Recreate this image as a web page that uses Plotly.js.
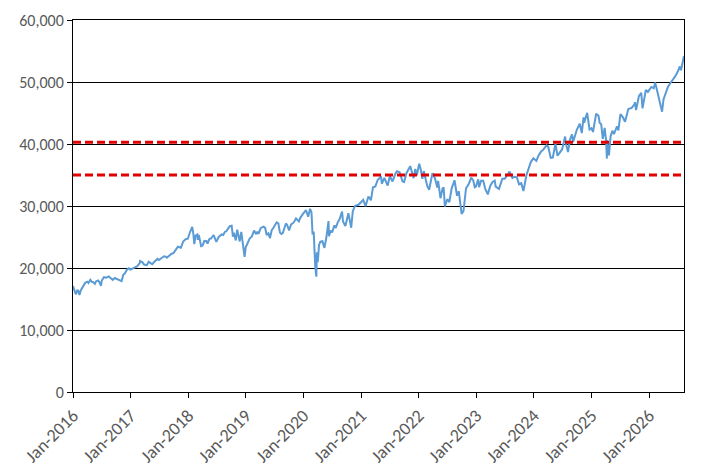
<!DOCTYPE html>
<html>
<head>
<meta charset="utf-8">
<script src="https://cdn.plot.ly/plotly-3.0.1.min.js"></script>
<style>
  html, body { margin: 0; padding: 0; background: #fff; }
  #chart { width: 719px; height: 472px; }
</style>
</head>
<body>
<div id="chart"></div>
<script>
// closing levels (roughly twice a month, extra points at sharp moves)
const dates = [
  "2016-01-01","2016-01-08","2016-01-15","2016-01-20","2016-01-29","2016-02-05","2016-02-11","2016-02-19",
  "2016-03-01","2016-03-11","2016-03-18","2016-04-01","2016-04-08","2016-04-20","2016-04-29","2016-05-06",
  "2016-05-19","2016-05-27","2016-06-08","2016-06-16","2016-06-27","2016-07-01","2016-07-15","2016-07-29",
  "2016-08-15","2016-08-26","2016-09-09","2016-09-22","2016-10-07","2016-10-21","2016-11-04","2016-11-15",
  "2016-11-25","2016-12-09","2016-12-20","2016-12-30",
  "2017-01-13","2017-01-25","2017-02-10","2017-02-28","2017-03-01","2017-03-15","2017-03-27","2017-04-13",
  "2017-04-25","2017-05-17","2017-05-31","2017-06-09","2017-06-20","2017-06-29","2017-07-14","2017-07-31",
  "2017-08-10","2017-08-18","2017-08-31","2017-09-15","2017-09-29","2017-10-13","2017-10-27","2017-11-15",
  "2017-11-30","2017-12-15","2017-12-29",
  "2018-01-12","2018-01-26","2018-02-02","2018-02-08","2018-02-16","2018-02-27","2018-03-02","2018-03-09",
  "2018-03-23","2018-04-02","2018-04-13","2018-04-27","2018-05-03","2018-05-15","2018-05-25","2018-06-11",
  "2018-06-22","2018-06-28","2018-07-13","2018-07-31","2018-08-10","2018-08-21","2018-08-31","2018-09-21",
  "2018-10-03","2018-10-11","2018-10-17","2018-10-29","2018-11-07","2018-11-23","2018-12-03","2018-12-14",
  "2018-12-24","2018-12-31",
  "2019-01-11","2019-01-25","2019-02-08","2019-02-22","2019-03-08","2019-03-15","2019-03-22","2019-04-05",
  "2019-04-23","2019-05-03","2019-05-13","2019-05-24","2019-06-03","2019-06-14","2019-06-28","2019-07-15",
  "2019-07-26","2019-08-05","2019-08-14","2019-08-23","2019-09-12","2019-09-20","2019-10-02","2019-10-15",
  "2019-11-01","2019-11-15","2019-12-03","2019-12-13","2019-12-27",
  "2020-01-17","2020-01-31","2020-02-12","2020-02-21","2020-02-28","2020-03-06","2020-03-09","2020-03-12",
  "2020-03-13","2020-03-16","2020-03-23","2020-03-26","2020-04-01","2020-04-09","2020-04-17","2020-04-30",
  "2020-05-13","2020-05-26","2020-06-08","2020-06-11","2020-06-22","2020-07-01","2020-07-15","2020-07-24",
  "2020-08-06","2020-08-17","2020-09-02","2020-09-08","2020-09-23","2020-10-12","2020-10-30","2020-11-09",
  "2020-11-24","2020-12-15","2020-12-31",
  "2021-01-14","2021-01-29","2021-02-16","2021-03-04","2021-03-17","2021-04-01","2021-04-16","2021-05-07",
  "2021-05-12","2021-05-28","2021-06-18","2021-07-02","2021-07-19","2021-08-06","2021-08-16","2021-09-02",
  "2021-09-20","2021-09-30","2021-10-15","2021-11-08","2021-11-26","2021-11-30","2021-12-10","2021-12-20",
  "2021-12-31",
  "2022-01-04","2022-01-14","2022-01-24","2022-02-02","2022-02-24","2022-03-08","2022-03-29","2022-04-14",
  "2022-04-29","2022-05-04","2022-05-19","2022-06-01","2022-06-08","2022-06-16","2022-07-01","2022-07-14",
  "2022-07-29","2022-08-16","2022-09-01","2022-09-12","2022-09-30","2022-10-12","2022-10-28","2022-11-15",
  "2022-11-30","2022-12-13","2022-12-22","2022-12-30",
  "2023-01-13","2023-01-19","2023-01-31","2023-02-14","2023-02-28","2023-03-15","2023-03-31","2023-04-14",
  "2023-04-28","2023-05-04","2023-05-25","2023-06-15","2023-06-30","2023-07-19","2023-07-31","2023-08-18",
  "2023-08-31","2023-09-15","2023-09-29","2023-10-13","2023-10-27","2023-11-15","2023-11-30","2023-12-13",
  "2023-12-29",
  "2024-01-17","2024-01-31","2024-02-15","2024-03-01","2024-03-21","2024-04-01","2024-04-17","2024-04-30",
  "2024-05-17","2024-05-30","2024-06-14","2024-06-28","2024-07-17","2024-07-24","2024-08-05","2024-08-16",
  "2024-08-30","2024-09-06","2024-09-30","2024-10-18","2024-10-31","2024-11-11","2024-11-15","2024-12-04",
  "2024-12-19","2024-12-31",
  "2025-01-10","2025-01-30","2025-02-14","2025-02-21","2025-03-03","2025-03-13","2025-03-25","2025-04-03",
  "2025-04-08","2025-04-09","2025-04-21","2025-05-02","2025-05-13","2025-05-23","2025-06-11","2025-06-20",
  "2025-07-03","2025-07-18","2025-08-01","2025-08-14","2025-08-22","2025-09-12","2025-09-30","2025-10-03",
  "2025-10-10","2025-10-28","2025-11-12","2025-11-20","2025-12-01","2025-12-11","2025-12-24",
  "2026-01-15","2026-01-30","2026-02-08","2026-02-15","2026-02-28","2026-03-10","2026-03-24","2026-04-02",
  "2026-04-15","2026-04-30","2026-05-15","2026-05-31","2026-06-15","2026-06-30","2026-07-15","2026-07-22",
  "2026-08-01","2026-08-10"
];

const closes = [
  17100,16346,15988,15766,16466,16205,15660,16392,
  16865,17213,17602,17792,17577,18096,17774,17740,
  17435,17873,18005,17733,17140,17949,18516,18432,
  18636,18395,18085,18392,18240,18145,17888,18923,
  19152,19757,19974,19763,
  19885,20068,20269,20812,21115,20950,20550,20453,
  20996,20606,21009,21272,21468,21287,21637,21891,
  21844,21674,21948,22268,22405,22871,23434,23271,
  24272,24651,24719,
  25803,26616,25521,23860,25219,25410,24538,25336,
  23533,23644,24360,24311,23930,24706,24753,25322,
  24580,24216,25019,25415,25313,25822,25965,26743,
  26828,25052,25706,24442,26180,24285,25826,24100,
  21792,23327,
  23996,24737,25106,26031,25450,25849,25502,26425,
  26656,26505,25324,25585,24820,26090,26600,27359,
  27192,25718,25479,25629,27182,26935,26078,27024,
  27347,28004,27503,28135,28645,
  29348,28256,29551,28992,25409,25864,23851,21200,
  23185,20189,18592,22552,20943,23719,24242,24345,
  23247,24995,27572,25128,26025,25735,26870,26469,
  27386,27844,29100,27501,26763,28837,26502,29158,
  30046,30200,30606,
  30992,29983,31522,30924,33015,33153,34200,34778,
  33587,34529,33290,34786,33962,35208,35625,35443,
  33970,33844,35295,36432,34899,34484,35971,34932,
  36338,
  36800,35912,34365,35629,33224,32633,35294,34451,
  32977,34061,31253,32813,33000,29927,31097,30630,
  32845,34152,31656,32381,28726,29210,32861,33593,
  34589,34108,33027,33147,
  34302,33045,34086,34089,32657,31875,33274,33886,
  34098,33128,32764,34408,34408,35061,35560,34500,
  34722,34618,33508,33670,32418,34991,35951,37090,
  37690,
  37267,38150,38773,39087,39781,39567,37753,37816,
  40004,38111,38589,39119,41198,39854,38703,40660,
  41563,40345,42330,43275,41763,44293,43445,45014,
  42342,42544,
  41938,44882,44546,43428,43191,40813,42587,40545,
  37645,40608,38170,41317,42140,41603,42865,42206,
  44828,44342,43589,44911,45631,45834,46397,46758,
  45479,47706,48254,45752,47289,48704,48400,
  49200,49000,49900,49200,47800,46500,45200,47200,
  48000,49200,49800,50300,50900,51600,52500,51900,
  53200,54200
];

// horizontal reference levels (red dashed)
const refLevels = [40300, 35000];

const axisStart = "2016-01-01";
const axisEnd = "2026-08-10";

const tickYears = [2016, 2017, 2018, 2019, 2020, 2021, 2022, 2023, 2024, 2025, 2026];
const tickDates = tickYears.map(y => `${y}-01-01`);
const tickLabels = tickYears.map(y => `Jan-${y}`);

const labelFont = { family: "Carlito, Lato, 'Liberation Sans', sans-serif", size: 16, color: "#595959" };
const dateFont = { ...labelFont, size: 18 };

const traces = [{
  type: "scatter",
  mode: "lines",
  x: dates,
  y: closes,
  line: { color: "#5B9BD5", width: 2 },
  hoverinfo: "x+y",
}];

refLevels.forEach(level => {
  traces.push({
    type: "scatter",
    mode: "lines",
    x: [axisStart, axisEnd],
    y: [level, level],
    line: { color: "#E00000", width: 3, dash: "8px,4px" },
    hoverinfo: "y",
  });
});

const layout = {
  width: 719,
  height: 472,
  margin: { l: 73, r: 35, t: 20, b: 80 },
  paper_bgcolor: "#ffffff",
  plot_bgcolor: "#ffffff",
  showlegend: false,
  font: labelFont,
  xaxis: {
    type: "date",
    range: [axisStart, axisEnd],
    tickmode: "array",
    tickvals: tickDates,
    ticktext: tickLabels,
    tickangle: -45,
    ticks: "outside",
    ticklen: 5,
    tickcolor: "#000",
    tickwidth: 1,
    showgrid: false,
    showline: true,
    linecolor: "#000",
    linewidth: 1,
    mirror: true,
    zeroline: false,
    tickfont: dateFont,
  },
  yaxis: {
    range: [0, 60000],
    dtick: 10000,
    tickformat: ",d",
    ticks: "outside",
    ticklen: 5,
    tickcolor: "#000",
    tickwidth: 1,
    showgrid: true,
    gridcolor: "#000",
    gridwidth: 1,
    showline: true,
    linecolor: "#000",
    linewidth: 1,
    mirror: true,
    zeroline: false,
    tickfont: labelFont,
  },
};

Plotly.newPlot("chart", traces, layout, { displayModeBar: false, staticPlot: true });
</script>
</body>
</html>
